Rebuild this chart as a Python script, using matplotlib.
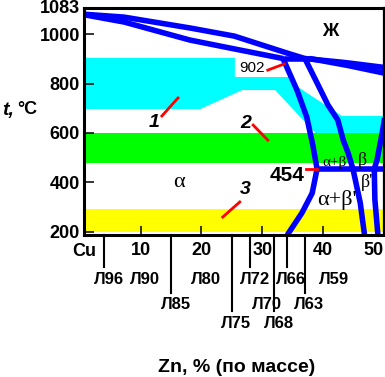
import matplotlib
matplotlib.use('Agg')
import matplotlib.pyplot as plt
from matplotlib.transforms import ScaledTranslation

plt.rcParams['font.family'] = ['Liberation Sans', 'DejaVu Sans']

# phase boundaries of the Cu-Zn diagram (Zn %, deg C)
liq_zn = [0, 7.3, 18.1, 25.4, 34.6, 37.0]
liq_t = [1083, 1070, 1026, 993, 920, 902]
sol_zn = [0, 7.3, 18.1, 25.4, 33.4]
sol_t = [1083, 1050, 977, 941, 902]
bliq_zn = [37.0, 43.5, 50]
bliq_t = [902, 886, 866]
bsol_zn = [37.8, 44.0, 50]
bsol_t = [902, 874, 843]
perit_zn = [33.4, 37.8]
perit_t = [902, 902]
solvus_zn = [33.4, 35.7, 37.3, 38.3, 39.0, 38.2, 36.5, 34.1]
solvus_t = [902, 774, 665, 551, 454, 356, 275, 186]
beta_zn = [37.0, 39.0, 40.8, 42.4, 43.3, 44.1, 44.9, 46.1, 46.8]
beta_t = [902, 803, 713, 653, 571, 519, 454, 316, 186]
right_zn = [50.1, 49.7, 48.85, 48.4, 48.5, 49.0]
right_t = [660, 600, 490, 454, 330, 186]
order_zn = [39.0, 50]
order_t = [454, 454]

# treatment ranges
cyan_zn = [0, 25.5, 25.5, 34.6, 34.6, 43.1, 50, 50, 38.7, 32.1, 26.7, 19.8, 0]
cyan_t = [905, 905, 827, 827, 807, 669, 669, 600, 600, 774, 774, 697, 697]
green_t = (480, 600)
yellow_t = (200, 290)

# brass grades
grades = ['Л96', 'Л90', 'Л85', 'Л80', 'Л75', 'Л72', 'Л70', 'Л68', 'Л66', 'Л63', 'Л59']
grade_zn = [4, 10, 15, 20, 25, 28, 30, 32, 34, 37, 41]
grade_row = [0, 0, 1, 0, 2, 0, 1, 2, 0, 1, 0]
grade_line = [True, False, True, False, True, True, False, True, True, True, False]

yticks = [200, 400, 600, 800, 1000, 1083]
xticks = [10, 20, 30, 40, 50]

blue = '#0000ff'
red = '#ff0000'

fig = plt.figure(figsize=(3.85, 3.77), dpi=100)
ax = fig.add_axes([84 / 385, 1 - 235 / 377, 300 / 385, 227 / 377])
ax.set_xlim(0.7, 50)
ax.set_ylim(186, 1107)

ax.fill(cyan_zn, cyan_t, color='#00ffff', lw=0, zorder=1)
ax.axhspan(*green_t, color='#00ff00', lw=0, zorder=1)
ax.axhspan(*yellow_t, color='#ffff00', lw=0, zorder=1)

for xs, ts in [(liq_zn, liq_t), (sol_zn, sol_t), (bliq_zn, bliq_t), (bsol_zn, bsol_t),
               (perit_zn, perit_t), (solvus_zn, solvus_t), (beta_zn, beta_t),
               (right_zn, right_t), (order_zn, order_t)]:
    ax.plot(xs, ts, color=blue, lw=4, solid_joinstyle='round', solid_capstyle='butt', zorder=3)

for s in ax.spines.values():
    s.set_linewidth(2.2)
    s.set_zorder(4)
ax.spines['right'].set_linewidth(1.6)

ax.set_yticks(yticks)
ax.set_xticks(xticks)
ax.tick_params(direction='in', width=1.1, labelsize=13, pad=3)
ax.tick_params(axis='y', length=7)
ax.tick_params(axis='x', length=6.5, pad=5)
for lab in ax.get_xticklabels() + ax.get_yticklabels():
    lab.set_fontweight('bold')
ax.get_xticklabels()[-1].set_ha('right')
# melting point label sits at the very top of the axis
top_lab = ax.get_yticklabels()[-1]
top_lab.set_transform(top_lab.get_transform() + ScaledTranslation(0, 5 / 72, fig.dpi_scale_trans))

trans = ax.get_xaxis_transform()
ax.text(0.7, -0.035, 'Cu', transform=trans, ha='center', va='top', fontsize=13, fontweight='bold')

line_end = [-0.141, -0.2555, -0.335]
text_y = [-0.198, -0.304, -0.388]
for g, zn, r, ln in zip(grades, grade_zn, grade_row, grade_line):
    if ln:
        ax.plot([zn, zn], [0, line_end[r]], transform=trans, color='black', lw=1.5, clip_on=False)
    ax.text(zn + 0.75, text_y[r], g, transform=trans, ha='center', va='center',
            fontsize=12, fontweight='bold')

# region labels
ax.text(41.1, 1010, 'Ж', ha='center', va='center', fontsize=13, fontweight='bold')
serif = ['Liberation Serif', 'DejaVu Serif']
ax.text(16.3, 397, 'α', ha='center', va='center', fontsize=16, family=serif)
ax.text(41.8, 482, 'α+β', ha='center', va='center', fontsize=11, family=serif)
ax.text(46.4, 490, 'β', ha='center', va='center', fontsize=13, family=serif)
ax.text(47.2, 397, "β'", ha='center', va='center', fontsize=13, family=serif)
ax.text(42.3, 328, "α+β'", ha='center', va='center', fontsize=16, family=serif)

ax.text(28.3, 864, '902', ha='center', va='center', fontsize=11, zorder=5)
ax.plot([30.9, 33.6], [855, 880], color=red, lw=2, zorder=5)
ax.text(34.1, 429, '454', ha='center', va='center', fontsize=15, fontweight='bold')
ax.plot([37.2, 39.0], [454, 454], color=red, lw=2, zorder=5)

for num, (tx, ty), (x0, y0, x1, y1) in [('1', (12.2, 644), (13.5, 669, 16.15, 742)),
                                         ('2', (27.2, 640), (28.5, 632, 30.9, 571)),
                                         ('3', (27.2, 369), (26.3, 320, 23.5, 259))]:
    ax.text(tx, ty, num, ha='center', va='center', fontsize=14, fontweight='bold', style='italic')
    ax.plot([x0, x1], [y0, y1], color=red, lw=2, zorder=5)

fig.text(2 / 385, 1 - 110 / 377, 't,', ha='left', va='center', fontsize=14,
         fontweight='bold', style='italic')
fig.text(17 / 385, 1 - 110 / 377, '°C', ha='left', va='center', fontsize=13, fontweight='bold')
fig.text(237 / 385, 1 - 367 / 377, 'Zn, % (по массе)', ha='center', va='center',
         fontsize=14, fontweight='bold')

fig.savefig('out.png', dpi=100)
